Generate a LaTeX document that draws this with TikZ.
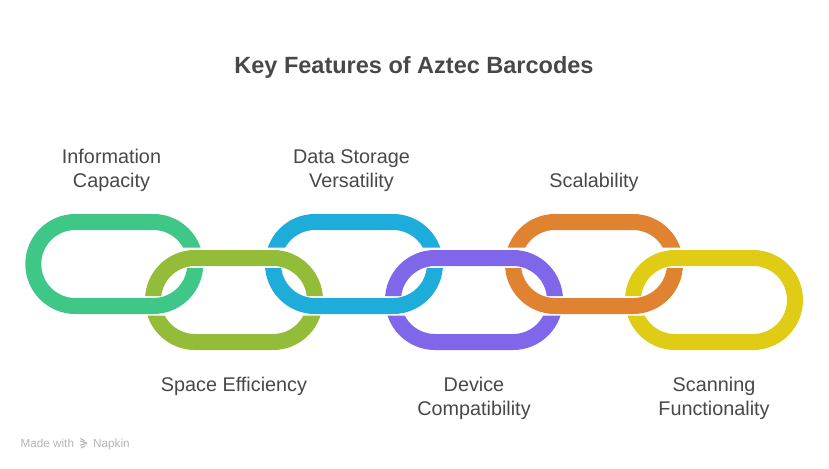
\documentclass[tikz,border=0pt]{standalone}
\usepackage{fontspec}
\setmainfont{Liberation Sans}
\definecolor{cgreen}{HTML}{3FC788}
\definecolor{colive}{HTML}{93BD39}
\definecolor{cblue}{HTML}{1EACDB}
\definecolor{cpurple}{HTML}{8066E8}
\definecolor{corange}{HTML}{DF8331}
\definecolor{cyellow}{HTML}{E0CC15}
\definecolor{ctext}{HTML}{484848}
\definecolor{cmark}{HTML}{B4B4B4}
\tikzset{
  linkline/.style={line width=16pt},
  label/.style={text=ctext, font=\fontsize{19.8}{24}\selectfont, align=center, inner sep=0pt, anchor=base},
  titletext/.style={text=ctext, font=\fontsize{23.5}{28}\selectfont\bfseries, inner sep=0pt, anchor=base},
  marktext/.style={text=cmark, font=\fontsize{11.7}{14}\selectfont, inner sep=0pt, anchor=base west},
}
% #1 left outer x, #2 top outer y, #3 colour, #4 clip holes
\newcommand{\chainlink}[4]{%
  \begin{scope}[even odd rule]
    \clip (0,0) rectangle (829,468) #4;
    \draw[linkline, draw=#3] (#1+50,#2+8) -- (#1+128,#2+8)
      arc[start angle=-90,end angle=90,radius=42] -- (#1+50,#2+92)
      arc[start angle=90,end angle=270,radius=42] -- cycle;
  \end{scope}}
\begin{document}
\begin{tikzpicture}[x=1pt,y=-1pt]
\useasboundingbox (0,0) rectangle (829,468);
\fill[white] (0,0) rectangle (829,468);

\node[titletext] (title) at (414,73.5) {Key Features of Aztec Barcodes};

\chainlink{25.3}{214}{cgreen}{(165,247.7) rectangle (206,268)}
\chainlink{145}{250}{colive}{(142,296) rectangle (178,315.7) (290,296) rectangle (326,315.7)}
\chainlink{265}{214}{cblue}{(262,247.7) rectangle (303,268) (405,247.7) rectangle (446,268)}
\chainlink{385}{250}{cpurple}{(382,296) rectangle (418,315.7) (530,296) rectangle (566,315.7)}
\chainlink{505}{214}{corange}{(502,247.7) rectangle (543,268) (645,247.7) rectangle (686,268)}
\chainlink{625}{250}{cyellow}{(622,296) rectangle (658,315.7)}

\node[label] (l1) at (111.5,187) {Information\\Capacity};
\node[label] (l2) at (351.5,187) {Data Storage\\Versatility};
\node[label] (l3) at (594,187) {Scalability};
\node[label] (l4) at (234,391) {Space Efficiency};
\node[label] (l5) at (474,415) {Device\\Compatibility};
\node[label] (l6) at (714,415) {Scanning\\Functionality};

\node[marktext] (made) at (20.5,447) {Made with};
\node[marktext] (napkin) at (93,447) {Napkin};
\draw[cmark, line width=1.1pt] (80.5,438.5) -- (85,441);
\draw[cmark, line width=1.1pt] (80,441) -- (87,443.2);
\draw[cmark, line width=1.1pt] (87,443.2) -- (80,445.2);
\draw[cmark, line width=1.1pt] (85.5,445.6) -- (81,448);
\end{tikzpicture}
\end{document}
